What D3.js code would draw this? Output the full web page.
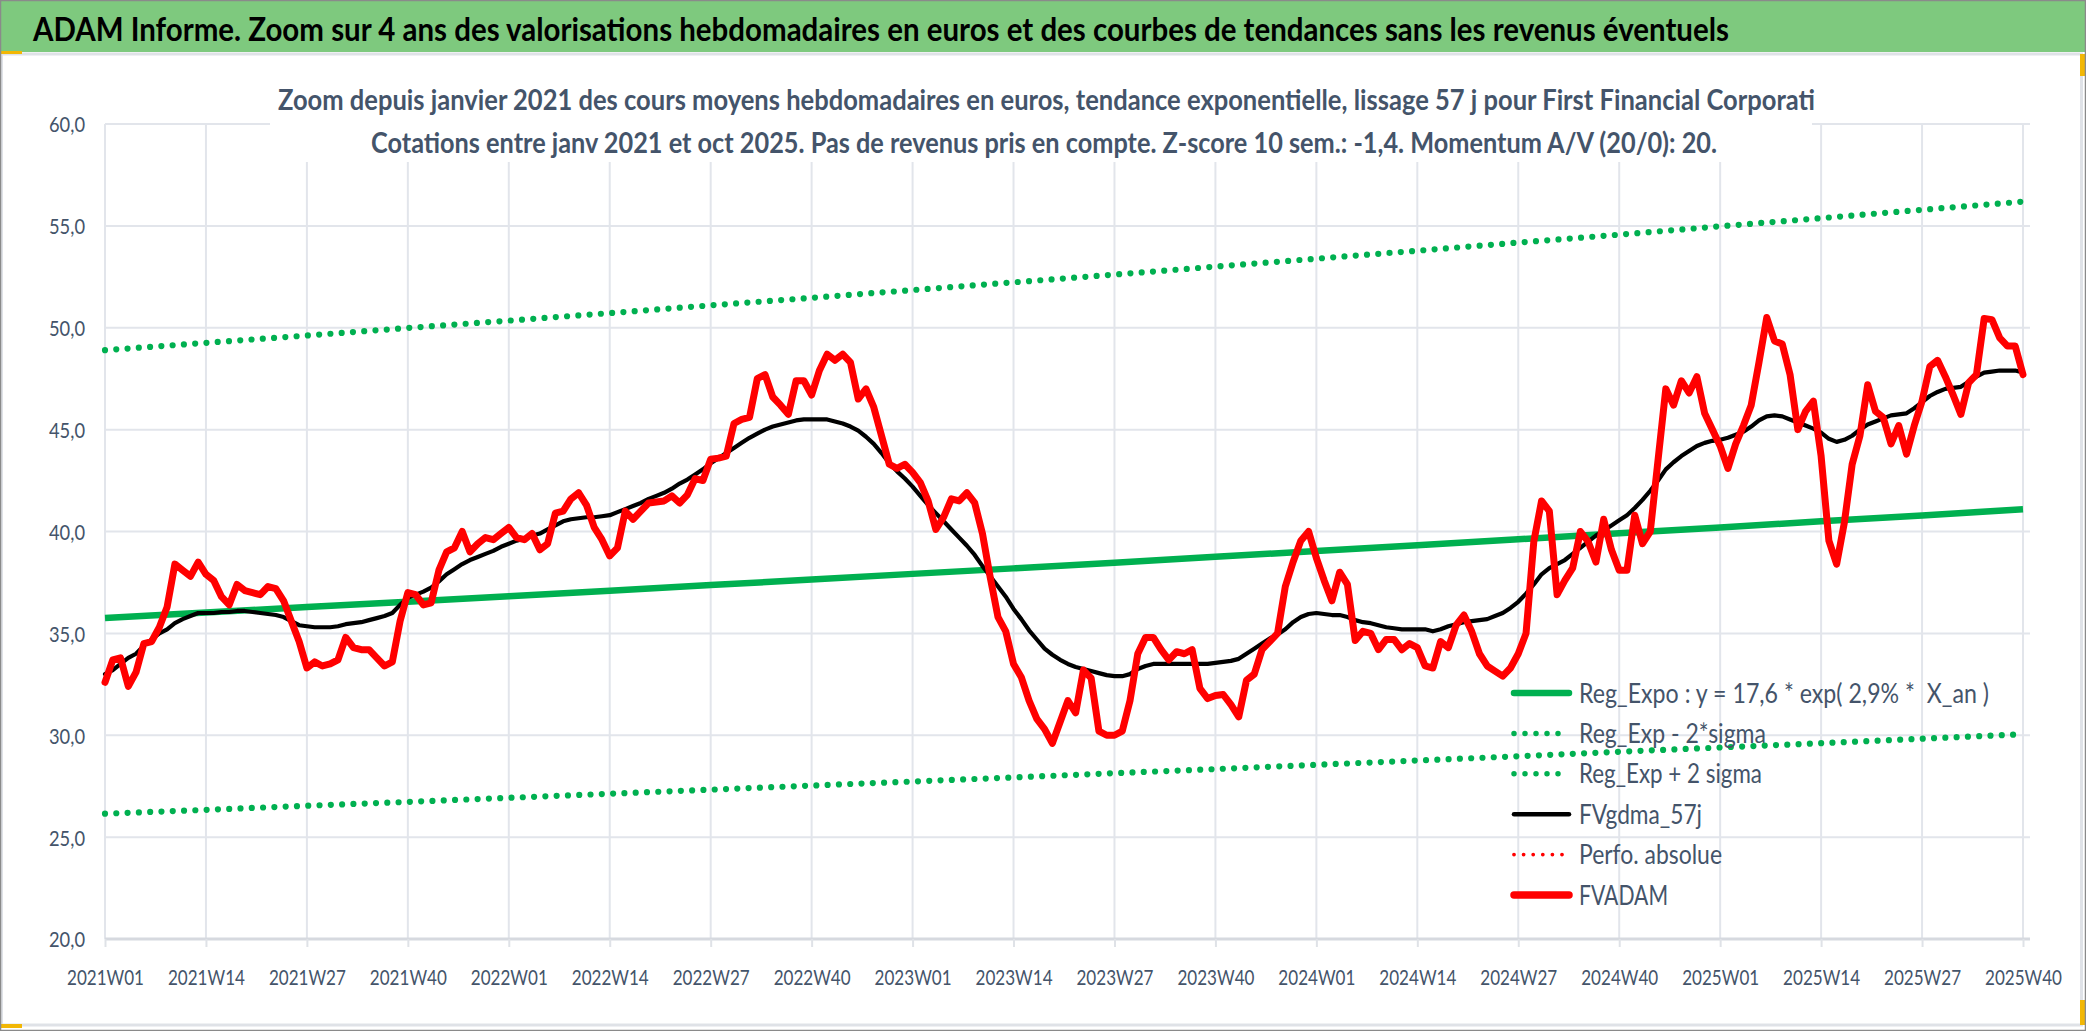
<!DOCTYPE html>
<html><head><meta charset="utf-8">
<script src="https://cdn.jsdelivr.net/npm/d3@7"></script>
<style>
html,body{margin:0;padding:0;background:#fff;overflow:hidden}
svg{display:block}
text{white-space:pre}
</style></head><body>
<svg id="chart" width="2086" height="1031"></svg>
<script>
// ---------- DATA ----------
const years = [2021, 2022, 2023, 2024, 2025];
const weeksInYear = [52, 52, 52, 52, 40];
const tickLabels = ["2021W01","2021W14","2021W27","2021W40","2022W01","2022W14","2022W27","2022W40",
  "2023W01","2023W14","2023W27","2023W40","2024W01","2024W14","2024W27","2024W40",
  "2025W01","2025W14","2025W27","2025W40"];
const yTicks = [20, 25, 30, 35, 40, 45, 50, 55, 60];

const fvadam = [
32.6,33.7,33.8,32.4,33.1,34.5,34.6,35.3,36.3,38.4,38.1,37.8,38.5,37.9,37.6,36.8,36.4,37.4,37.1,37.0,
36.9,37.3,37.2,36.6,35.6,34.6,33.3,33.6,33.4,33.5,33.7,34.8,34.3,34.2,34.2,33.8,33.4,33.6,35.6,37.0,
36.9,36.4,36.5,38.1,39.0,39.2,40.0,39.0,39.4,39.7,39.6,39.9,40.2,39.7,39.6,39.9,39.1,39.4,40.9,41.0,
41.6,41.9,41.3,40.2,39.6,38.8,39.2,41.0,40.6,41.0,41.4,41.45,41.5,41.75,41.4,41.8,42.6,42.5,43.55,43.6,
43.7,45.3,45.5,45.6,47.5,47.7,46.6,46.2,45.75,47.4,47.4,46.7,47.9,48.7,48.4,48.7,48.3,46.5,47.0,46.1,
44.7,43.3,43.1,43.3,42.9,42.4,41.5,40.1,40.7,41.6,41.5,41.9,41.4,39.9,37.75,35.8,35.1,33.5,32.85,31.7,
30.8,30.3,29.6,30.65,31.7,31.1,33.2,32.8,30.2,30.0,30.0,30.2,31.7,34.0,34.8,34.8,34.2,33.7,34.1,34.0,
34.2,32.3,31.8,31.95,32.0,31.5,30.9,32.7,33.0,34.2,34.6,35.0,37.3,38.5,39.55,40.0,38.7,37.6,36.6,38.0,
37.4,34.65,35.1,35.0,34.2,34.7,34.7,34.2,34.5,34.3,33.4,33.3,34.6,34.3,35.4,35.9,35.1,34.0,33.4,33.15,
32.9,33.3,34.0,35.0,39.5,41.5,41.0,36.9,37.6,38.2,40.0,39.5,38.5,40.6,39.1,38.1,38.1,40.8,39.4,40.0,
43.5,47.0,46.2,47.4,46.8,47.6,45.8,45.0,44.2,43.1,44.3,45.2,46.2,48.3,50.5,49.35,49.2,47.7,45.0,45.9,
46.4,43.7,39.55,38.4,40.45,43.3,44.7,47.2,45.9,45.6,44.3,45.2,43.8,45.2,46.4,48.1,48.4,47.6,46.7,45.75,
47.3,47.7,50.45,50.4,49.5,49.1,49.1,47.7];

const fvgdma = [
33.0,33.2,33.5,33.8,34.0,34.4,34.7,35.0,35.2,35.5,35.7,35.85,36.0,36.0,36.0,36.05,36.05,36.1,36.1,36.05,
36.0,35.95,35.9,35.8,35.6,35.4,35.35,35.3,35.3,35.3,35.35,35.45,35.5,35.55,35.65,35.75,35.85,36.0,36.4,36.75,
36.9,37.05,37.25,37.55,37.9,38.15,38.4,38.6,38.75,38.9,39.05,39.25,39.4,39.55,39.65,39.8,39.9,40.1,40.3,40.5,
40.6,40.65,40.7,40.7,40.75,40.8,40.95,41.1,41.25,41.4,41.6,41.75,41.9,42.1,42.35,42.55,42.8,43.05,43.35,43.6,
43.85,44.1,44.35,44.6,44.8,45.0,45.15,45.25,45.35,45.45,45.5,45.5,45.5,45.5,45.4,45.3,45.15,44.95,44.65,44.3,
43.85,43.35,42.95,42.6,42.2,41.75,41.3,40.9,40.5,40.1,39.7,39.3,38.85,38.3,37.8,37.3,36.8,36.2,35.7,35.15,
34.7,34.25,33.95,33.7,33.5,33.35,33.25,33.15,33.05,32.95,32.9,32.9,33.0,33.25,33.4,33.5,33.5,33.5,33.5,33.5,
33.5,33.5,33.5,33.55,33.6,33.65,33.75,34.0,34.25,34.5,34.75,34.95,35.2,35.55,35.8,35.95,36.0,35.95,35.9,35.9,
35.8,35.65,35.55,35.5,35.4,35.3,35.25,35.2,35.2,35.2,35.2,35.1,35.2,35.35,35.45,35.55,35.6,35.65,35.7,35.85,
36.0,36.25,36.55,36.95,37.4,37.9,38.2,38.4,38.6,38.9,39.2,39.5,39.8,40.05,40.3,40.55,40.8,41.15,41.55,42.0,
42.5,43.05,43.4,43.7,43.95,44.2,44.35,44.45,44.5,44.6,44.75,44.9,45.15,45.45,45.65,45.7,45.65,45.5,45.35,45.2,
45.05,44.85,44.55,44.4,44.5,44.7,45.0,45.25,45.4,45.55,45.7,45.75,45.8,46.05,46.35,46.65,46.85,47.0,47.05,47.1,
47.35,47.6,47.8,47.85,47.9,47.9,47.9,47.8];

// trend lines, read at each labelled week
const regExpo  = [35.76,36.02,36.29,36.55,36.82,37.09,37.37,37.64,37.92,38.19,38.47,38.76,39.04,39.33,39.62,39.91,40.20,40.50,40.79,41.09];
const regMinus = [26.15,26.34,26.54,26.73,26.93,27.13,27.33,27.53,27.73,27.93,28.14,28.34,28.55,28.76,28.97,29.19,29.40,29.61,29.83,30.05];
const regPlus  = [48.90,49.26,49.62,49.99,50.35,50.72,51.10,51.47,51.85,52.23,52.61,53.00,53.39,53.78,54.18,54.57,54.98,55.38,55.79,56.19];

const titleText = "ADAM Informe. Zoom sur 4 ans des valorisations hebdomadaires en euros et des courbes de tendances sans les revenus éventuels";
const subtitle1 = "Zoom depuis janvier 2021 des cours moyens hebdomadaires en euros, tendance exponentielle, lissage 57 j pour First Financial Corporati";
const subtitle2 = "Cotations entre janv 2021 et oct 2025. Pas de revenus pris en compte. Z-score 10 sem.: -1,4. Momentum A/V (20/0): 20.";
const legendLabels = ["Reg_Expo : y = 17,6 * exp( 2,9% *  X_an )","Reg_Exp - 2*sigma","Reg_Exp + 2 sigma","FVgdma_57j","Perfo. absolue","FVADAM"];

// ---------- CHART ----------
(function () {
const categories = [];
years.forEach((yr, k) => { for (let w = 1; w <= weeksInYear[k]; w++) categories.push(yr + "W" + String(w).padStart(2, "0")); });

const W = 2086, H = 1031;
const pL = 105, pR = 2023, pT = 124, pB = 939;
const FONT = "Lato, 'Open Sans', 'Liberation Sans', sans-serif";
const TXT = "#44546a";
const GREEN = "#00b050", RED = "#ff0000";

const svg = d3.select("#chart");
const x = d3.scalePoint().domain(categories).range([pL, pR]);
const y = d3.scaleLinear().domain([20, 60]).range([pB, pT]);

svg.append("rect").attr("width", W).attr("height", H).attr("fill", "#fff");
svg.append("rect").attr("x", 1.5).attr("y", 54).attr("width", 2080).attr("height", 971)
  .attr("fill", "none").attr("stroke", "#dfe2e7").attr("stroke-width", 3);
svg.append("rect").attr("x", 0).attr("y", 1).attr("width", W).attr("height", 51).attr("fill", "#7ec97e");
svg.append("rect").attr("x", 0).attr("y", 51).attr("width", 22).attr("height", 3).attr("fill", "#f2b705");
svg.append("rect").attr("x", 2080).attr("y", 54).attr("width", 6).attr("height", 22).attr("fill", "#f2b705");
svg.append("rect").attr("x", 0).attr("y", 1024).attr("width", 22).attr("height", 4).attr("fill", "#f2b705");
svg.append("rect").attr("x", 2080).attr("y", 1000).attr("width", 6).attr("height", 25).attr("fill", "#f2b705");
svg.append("rect").attr("x", 0.5).attr("y", 0.5).attr("width", W - 1).attr("height", H - 1)
  .attr("fill", "none").attr("stroke", "#8a8a8a").attr("stroke-width", 1.5);

svg.append("text").attr("x", 33).attr("y", 41).text(titleText)
  .attr("font-family", FONT).attr("font-weight", 700).attr("font-size", 33).attr("fill", "#000")
  .attr("textLength", 1696).attr("lengthAdjust", "spacingAndGlyphs");

const grid = svg.append("g");
grid.selectAll("line.h").data(yTicks.filter(v => v > 20)).join("line").attr("class", "h")
  .attr("x1", pL).attr("x2", 2030).attr("y1", d => y(d)).attr("y2", d => y(d))
  .attr("stroke", "#e2e5eb").attr("stroke-width", 2);
grid.selectAll("line.v").data(tickLabels).join("line").attr("class", "v")
  .attr("x1", d => x(d)).attr("x2", d => x(d)).attr("y1", pT).attr("y2", pB)
  .attr("stroke", "#e2e5eb").attr("stroke-width", 2);

const xAxis = d3.axisBottom(x).tickValues(tickLabels).tickSize(8).tickPadding(22);
const gx = svg.append("g").attr("transform", `translate(0,${pB})`).call(xAxis);
gx.select(".domain").attr("stroke", "#d6d9df").attr("stroke-width", 3).attr("d", `M${pL},0H2030`);
gx.selectAll(".tick line").attr("stroke", "#dfe2e7").attr("stroke-width", 2);
gx.selectAll(".tick text").attr("font-family", FONT).attr("font-size", 22).attr("fill", TXT)
  .attr("textLength", 77).attr("lengthAdjust", "spacingAndGlyphs");

const yAxis = d3.axisLeft(y).tickValues(yTicks).tickSize(0).tickPadding(20)
  .tickFormat(d => d.toFixed(1).replace(".", ","));
const gy = svg.append("g").attr("transform", `translate(${pL},0)`).call(yAxis);
gy.select(".domain").remove();
gy.selectAll(".tick text").attr("font-family", FONT).attr("font-size", 22).attr("fill", TXT)
  .attr("dy", "0.36em").attr("textLength", 36).attr("lengthAdjust", "spacingAndGlyphs");

svg.append("rect").attr("x", 270).attr("y", 60).attr("width", 1542).attr("height", 102).attr("fill", "#fff");
svg.append("text").attr("x", 278).attr("y", 110).text(subtitle1)
  .attr("font-family", FONT).attr("font-size", 29).attr("font-weight", 700).attr("fill", TXT)
  .attr("textLength", 1537).attr("lengthAdjust", "spacingAndGlyphs");
svg.append("text").attr("x", 371).attr("y", 153).text(subtitle2)
  .attr("font-family", FONT).attr("font-size", 29).attr("font-weight", 700).attr("fill", TXT)
  .attr("textLength", 1346).attr("lengthAdjust", "spacingAndGlyphs");

const lineIdx = d3.line().x((d, i) => x(categories[i])).y(d => y(d));
const lineTick = d3.line().x((d, i) => x(tickLabels[i])).y(d => y(d));
const series = svg.append("g").attr("fill", "none").attr("stroke-linejoin", "round");
series.append("path").attr("d", lineTick(regExpo)).attr("stroke", GREEN).attr("stroke-width", 6.5);
series.append("path").attr("d", lineTick(regMinus)).attr("stroke", GREEN).attr("stroke-width", 6.2)
  .attr("stroke-linecap", "round").attr("stroke-dasharray", "0,11.3");
series.append("path").attr("d", lineTick(regPlus)).attr("stroke", GREEN).attr("stroke-width", 6.2)
  .attr("stroke-linecap", "round").attr("stroke-dasharray", "0,11.3");
series.append("path").attr("d", lineIdx(fvgdma)).attr("stroke", "#000").attr("stroke-width", 4.2)
  .attr("stroke-linecap", "round");
series.append("path").attr("d", lineIdx(fvadam)).attr("stroke", RED).attr("stroke-width", 7)
  .attr("stroke-linecap", "round");

const legendStyles = [
  {stroke: GREEN, w: 6.5, dash: null},
  {stroke: GREEN, w: 5.5, dash: "0,11"},
  {stroke: GREEN, w: 5.5, dash: "0,11"},
  {stroke: "#000", w: 4.5, dash: null},
  {stroke: RED, w: 3.8, dash: "0,9.6"},
  {stroke: RED, w: 7.5, dash: null}
];
const legendWidths = [410, 187, 183, 123, 143, 89];
const legendRowY = d3.scaleLinear().domain([0, 5]).range([693, 895]);
const lg = svg.append("g");
legendLabels.forEach((lab, i) => {
  const cy = legendRowY(i);
  const st = legendStyles[i];
  const ln = lg.append("line").attr("x1", 1514).attr("x2", 1569).attr("y1", cy).attr("y2", cy)
    .attr("stroke", st.stroke).attr("stroke-width", st.w).attr("stroke-linecap", "round");
  if (st.dash) ln.attr("stroke-dasharray", st.dash);
  lg.append("text").attr("x", 1579).attr("y", cy + 9.5).text(lab)
    .attr("font-family", FONT).attr("font-size", 26).attr("fill", TXT)
    .attr("textLength", legendWidths[i]).attr("lengthAdjust", "spacingAndGlyphs");
});
})();
</script>
</body></html>
